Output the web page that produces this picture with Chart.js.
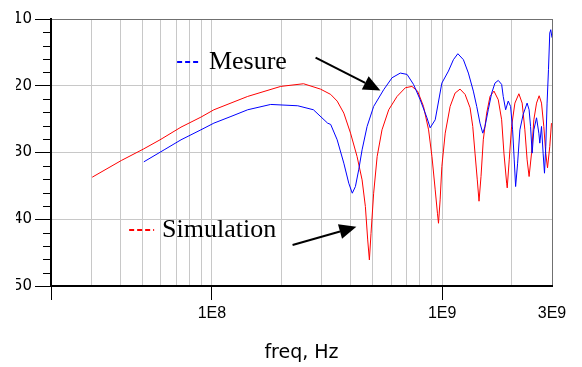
<!DOCTYPE html>
<html>
<head>
<meta charset="utf-8">
<title>Mesure / Simulation</title>
<script src="https://cdn.jsdelivr.net/npm/chart.js@4/dist/chart.umd.min.js"></script>
<style>
  html, body { margin: 0; padding: 0; background: #fff; }
  #wrap { position: relative; width: 582px; height: 367px; overflow: hidden; }
  /* the original picture is cut on the left, through the y labels */
  #cut { position: absolute; left: 0; top: 0; width: 16px; height: 300px; background: #fff; }
</style>
</head>
<body>
<div id="wrap">
  <canvas id="myChart" width="582" height="367"></canvas>
  <div id="cut"></div>
</div>
<script>
'use strict';
//data: freq in Hz, level in dB
var mesureFreq = [5.06e7, 6.2e7, 7.34e7, 8.96e7, 1.02e8, 1.21e8, 1.43e8, 1.8e8, 2.36e8, 2.76e8,
  3.18e8, 3.28e8, 3.5e8, 3.74e8, 3.93e8, 4.07e8, 4.2e8, 4.34e8, 4.49e8, 4.72e8,
  5.04e8, 5.57e8, 6.06e8, 6.58e8, 7.04e8, 7.51e8, 8.03e8, 8.59e8, 8.87e8, 9.33e8,
  9.97e8, 1.065e9, 1.119e9, 1.17e9, 1.237e9, 1.3e9, 1.366e9, 1.413e9, 1.46e9, 1.501e9,
  1.535e9, 1.586e9, 1.641e9, 1.696e9, 1.753e9, 1.813e9, 1.842e9, 1.887e9, 1.936e9, 1.983e9,
  2.023e9, 2.056e9, 2.085e9, 2.127e9, 2.176e9, 2.248e9, 2.339e9, 2.386e9, 2.421e9, 2.46e9,
  2.502e9, 2.57e9, 2.63e9, 2.656e9, 2.701e9, 2.745e9, 2.783e9, 2.819e9, 2.856e9, 2.896e9,
  2.934e9, 2.963e9, 3.0e9];
var mesureDb = [-31.4, -29.6, -28.1, -26.6, -25.6, -24.6, -23.6, -22.8, -23.0, -23.6,
  -25.6, -25.8, -28.1, -31.6, -34.6, -36.1, -35.1, -32.6, -29.6, -26.1,
  -23.1, -20.6, -18.8, -18.1, -18.3, -19.8, -22.1, -24.8, -26.3, -25.1,
  -19.6, -17.8, -16.1, -15.2, -16.1, -18.1, -20.8, -23.1, -25.6, -27.1,
  -26.1, -23.6, -21.1, -19.6, -19.2, -19.8, -21.6, -23.6, -22.3, -23.1,
  -26.6, -31.1, -35.1, -31.6, -26.6, -24.3, -22.6, -23.6, -26.1, -30.1,
  -26.6, -24.8, -27.1, -28.6, -26.1, -30.1, -33.1, -29.1, -22.6, -17.6,
  -12.1, -11.6, -12.8];

var simFreq = [3.02e7, 4.04e7, 5.03e7, 5.95e7, 7.34e7, 8.96e7, 1.02e8, 1.43e8, 1.99e8, 2.5e8,
  2.96e8, 3.28e8, 3.5e8, 3.74e8, 4.0e8, 4.27e8, 4.49e8, 4.64e8, 4.75e8, 4.83e8,
  4.91e8, 5.04e8, 5.22e8, 5.48e8, 5.86e8, 6.37e8, 6.92e8, 7.39e8, 7.82e8, 8.3e8,
  8.73e8, 9.03e8, 9.33e8, 9.54e8, 9.64e8, 9.8e8, 9.97e8, 1.031e9, 1.083e9, 1.138e9,
  1.196e9, 1.258e9, 1.322e9, 1.358e9, 1.389e9, 1.421e9, 1.446e9, 1.475e9, 1.509e9, 1.561e9,
  1.614e9, 1.679e9, 1.753e9, 1.813e9, 1.855e9, 1.906e9, 1.917e9, 1.956e9, 2.003e9, 2.07e9,
  2.154e9, 2.226e9, 2.287e9, 2.339e9, 2.386e9, 2.445e9, 2.502e9, 2.57e9, 2.638e9, 2.701e9,
  2.764e9, 2.819e9, 2.868e9, 2.934e9, 2.984e9];
var simDb = [-33.7, -31.2, -29.5, -28.1, -26.2, -24.7, -23.6, -21.6, -20.1, -19.7,
  -20.5, -21.3, -22.3, -24.1, -27.1, -30.6, -34.1, -38.1, -43.1, -46.1,
  -42.1, -36.1, -30.6, -26.6, -23.6, -21.6, -20.3, -20.1, -20.8, -23.1,
  -26.6, -30.6, -35.6, -39.1, -40.6, -37.1, -32.1, -27.1, -23.1, -21.1,
  -20.5, -21.3, -23.3, -26.1, -30.1, -34.1, -37.3, -33.6, -28.1, -24.1,
  -21.6, -20.8, -22.1, -25.1, -30.1, -34.6, -35.3, -31.1, -26.1, -22.6,
  -21.2, -22.6, -26.6, -31.1, -33.6, -30.1, -25.1, -22.6, -21.5, -22.6,
  -26.1, -30.1, -32.3, -29.1, -25.6];

//axes
var freqMin = 2e7;
var freqMax = 3e9;
var gridFreqs = [2e7, 3e7, 4e7, 5e7, 6e7, 7e7, 8e7, 9e7,
  1e8, 2e8, 3e8, 4e8, 5e8, 6e8, 7e8, 8e8, 9e8, 1e9, 2e9, 3e9];
var labelFreqs = [1e8, 1e9, 3e9];
var labelTexts = ['1E8', '1E9', '3E9'];
var markFreqs = [2e7, 1e8, 1e9];
var dbMin = -50;
var dbMax = -10;
var dbMajor = 10;
var dbMinor = 2;

//notes on the plot, in freq / dB
var noteNames = ['Mesure', 'Simulation'];
var noteColors = ['#0000ff', '#ff0000'];
var noteLineFrom = [7.06e7, 4.37e7];
var noteLineTo = [8.96e7, 5.61e7];
var noteLineDb = [-16.45, -41.6];
var noteTextFreq = [9.7e7, 6.07e7];
var noteTextDb = [-17.43, -42.65];
var arrowFrom = [[2.82e8, -15.78], [2.24e8, -43.85]];
var arrowTo = [[5.39e8, -20.73], [4.24e8, -41.14]];

function toPoints(xs, ys){
  var pts = [];
  for(var i = 0; i < xs.length; i++){
    pts.push({x: xs[i], y: ys[i]});
  }
  return pts;
}

function isMajorDb(v){
  return Math.abs(v % dbMajor) < 1e-9;
}

//minor ticks, legend lines and arrows
var notesPlugin = {
  id: 'notes',
  afterDatasetsDraw: function(chart){
    var ctx = chart.ctx;
    var xs = chart.scales.x;
    var ys = chart.scales.y;
    var area = chart.chartArea;
    ctx.save();

    ctx.strokeStyle = '#000';
    ctx.lineWidth = 1;
    for(var v = dbMin + dbMinor; v < dbMax; v += dbMinor){
      if(isMajorDb(v)) continue;
      var py = Math.round(ys.getPixelForValue(v)) + 0.5;
      ctx.beginPath();
      ctx.moveTo(area.left - 8, py);
      ctx.lineTo(area.left, py);
      ctx.stroke();
    }

    for(var i = 0; i < noteNames.length; i++){
      var ly = Math.round(ys.getPixelForValue(noteLineDb[i]));
      ctx.strokeStyle = noteColors[i];
      ctx.lineWidth = 2;
      ctx.setLineDash([5, 3]);
      ctx.beginPath();
      ctx.moveTo(xs.getPixelForValue(noteLineFrom[i]), ly);
      ctx.lineTo(xs.getPixelForValue(noteLineTo[i]), ly);
      ctx.stroke();
      ctx.setLineDash([]);

      ctx.fillStyle = '#000';
      ctx.font = '26px "Liberation Serif", "Times New Roman", serif';
      ctx.textAlign = 'left';
      ctx.textBaseline = 'alphabetic';
      ctx.fillText(noteNames[i], xs.getPixelForValue(noteTextFreq[i]), ys.getPixelForValue(noteTextDb[i]));

      var x0 = xs.getPixelForValue(arrowFrom[i][0]);
      var y0 = ys.getPixelForValue(arrowFrom[i][1]);
      var x1 = xs.getPixelForValue(arrowTo[i][0]);
      var y1 = ys.getPixelForValue(arrowTo[i][1]);
      var ang = Math.atan2(y1 - y0, x1 - x0);
      var headLen = 17;
      var headHalf = 7.5;
      var bx = x1 - headLen * Math.cos(ang);
      var by = y1 - headLen * Math.sin(ang);
      ctx.strokeStyle = '#000';
      ctx.lineWidth = 2;
      ctx.beginPath();
      ctx.moveTo(x0, y0);
      ctx.lineTo(bx, by);
      ctx.stroke();
      ctx.fillStyle = '#000';
      ctx.beginPath();
      ctx.moveTo(x1, y1);
      ctx.lineTo(bx + headHalf * Math.sin(ang), by - headHalf * Math.cos(ang));
      ctx.lineTo(bx - headHalf * Math.sin(ang), by + headHalf * Math.cos(ang));
      ctx.closePath();
      ctx.fill();
    }
    ctx.restore();
  }
};

var ctx = document.getElementById('myChart').getContext('2d');

var chartConfig = {
  type: 'line',
  data: {
    datasets: [
      {
        label: 'Mesure',
        data: toPoints(mesureFreq, mesureDb),
        borderColor: '#0000ff',
        borderWidth: 1,
        pointRadius: 0,
        tension: 0,
        fill: false,
      },
      {
        label: 'Simulation',
        data: toPoints(simFreq, simDb),
        borderColor: '#ff0000',
        borderWidth: 1,
        pointRadius: 0,
        tension: 0,
        fill: false,
      }
    ]
  },
  options: {
    responsive: false,
    animation: false,
    devicePixelRatio: 1,
    layout: {
      padding: {top: 19, right: 30, bottom: 0, left: 0}
    },
    plugins: {
      legend: {display: false},
      tooltip: {enabled: false},
    },
    scales: {
      x: {
        type: 'logarithmic',
        min: freqMin,
        max: freqMax,
        afterBuildTicks: function(scale){
          scale.ticks = gridFreqs.map(function(v){ return {value: v}; });
        },
        afterFit: function(scale){
          scale.height = 81;
        },
        ticks: {
          autoSkip: false,
          maxRotation: 0,
          padding: 4,
          color: '#000',
          font: {family: 'Arial, "Liberation Sans", sans-serif', size: 16},
          callback: function(value){
            var k = labelFreqs.indexOf(value);
            return k === -1 ? '' : labelTexts[k];
          }
        },
        grid: {
          tickLength: 14,
          lineWidth: 1,
          color: function(c){
            return c.tick && c.tick.value === freqMax ? '#707070' : '#c8c8c8';
          },
          tickColor: function(c){
            return c.tick && markFreqs.indexOf(c.tick.value) !== -1 ? '#000' : 'rgba(0,0,0,0)';
          },
        },
        border: {color: '#000', width: 2},
        title: {
          display: true,
          text: 'freq, Hz',
          color: '#000',
          font: {family: '"DejaVu Sans", sans-serif', size: 19},
          padding: {top: 0, bottom: 3},
        },
      },
      y: {
        type: 'linear',
        min: dbMin,
        max: dbMax,
        afterFit: function(scale){
          scale.width = 51;
        },
        ticks: {
          stepSize: dbMinor,
          autoSkip: false,
          padding: 3,
          color: '#000',
          font: {family: '"DejaVu Sans", sans-serif', size: 15},
          callback: function(value){
            return isMajorDb(value) ? String(value) : '';
          }
        },
        grid: {
          tickLength: 16,
          lineWidth: 1,
          color: function(c){
            if(!c.tick) return 'rgba(0,0,0,0)';
            if(c.tick.value === dbMax) return '#707070';
            return isMajorDb(c.tick.value) ? '#c8c8c8' : 'rgba(0,0,0,0)';
          },
          tickColor: function(c){
            return c.tick && isMajorDb(c.tick.value) ? '#000' : 'rgba(0,0,0,0)';
          },
        },
        border: {color: '#000', width: 2},
      }
    }
  },
  plugins: [notesPlugin],
};

new Chart(ctx, chartConfig);
</script>
</body>
</html>
